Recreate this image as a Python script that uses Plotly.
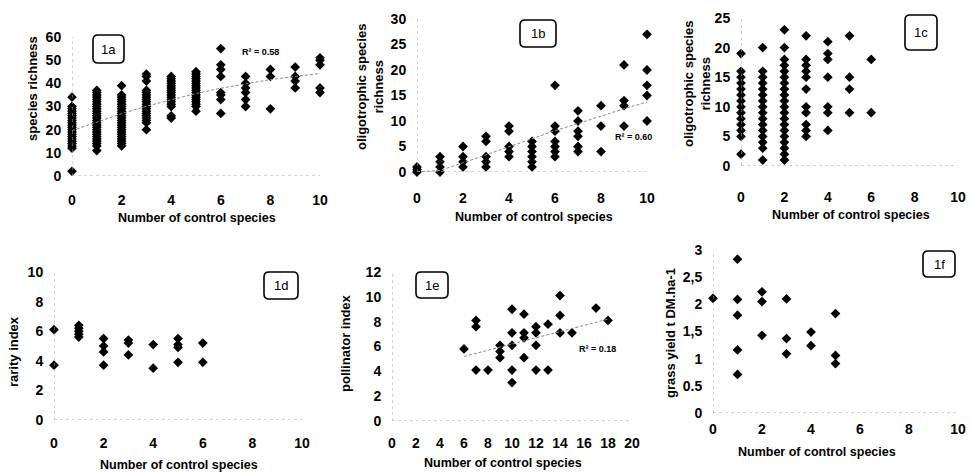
import plotly.graph_objects as go

# ---------------- DATA ----------------
# 1a: species richness vs number of control species
a_cols = [0, 1, 2, 3, 4, 5, 6, 7, 8, 9, 10]
a_vals = [
    [2, 12, 13, 14, 15, 16, 17, 18, 19, 20, 21, 22, 23, 24, 25, 26, 27, 28, 29, 30, 34],
    [11, 13, 14, 15, 16, 17, 18, 19, 20, 21, 22, 23, 24, 25, 26, 27, 28, 29, 30, 31, 32, 33, 34, 35, 36, 37],
    [13, 14, 15, 16, 17, 18, 19, 20, 21, 22, 23, 24, 25, 26, 27, 28, 29, 30, 31, 32, 33, 34, 35, 39],
    [20, 23, 24, 25, 26, 27, 28, 29, 30, 31, 32, 33, 34, 35, 36, 37, 41, 43, 44],
    [25, 26, 30, 31, 32, 33, 34, 35, 36, 37, 38, 39, 40, 41, 42, 43],
    [28, 30, 31, 32, 33, 34, 35, 36, 37, 38, 39, 40, 41, 42, 43, 44, 45],
    [27, 33, 35, 36, 43, 46, 48, 55],
    [30, 33, 36, 38, 40, 43],
    [29, 43, 46],
    [38, 41, 43, 47],
    [36, 38, 48, 50, 51],
]
trend_a_x = [0, 1, 2, 3, 4, 5, 6, 7, 8, 9, 10]
trend_a_y = [19.6, 23.4, 26.9, 30.1, 33.0, 35.6, 37.9, 39.9, 41.6, 43.0, 44.2]

# 1b: oligotrophic species richness vs number of control species
b_cols = [0, 1, 2, 3, 4, 5, 6, 7, 8, 9, 10]
b_vals = [
    [0, 0.5, 1],
    [0, 1, 2, 3],
    [1, 2, 3, 5],
    [1, 2, 3, 6, 7],
    [3, 4, 5, 8, 9],
    [1, 2, 3, 4, 5, 6],
    [3, 4, 5, 6, 8, 9, 17],
    [4, 5, 7, 8, 10, 12],
    [4, 9, 13],
    [9, 13, 14, 21],
    [10, 15, 17, 20, 27],
]
trend_b_x = [0, 1, 2, 3, 4, 5, 6, 7, 8, 9, 10]
trend_b_y = [0.0, 0.3, 1.8, 3.4, 5.0, 6.6, 8.1, 9.5, 11.0, 12.4, 13.7]

# 1c: oligotrophic species richness vs number of control species
c_cols = [0, 1, 2, 3, 4, 5, 6]
c_vals = [
    [2, 5, 6, 7, 8, 9, 10, 11, 12, 13, 14, 15, 16, 19],
    [1, 3, 4, 5, 6, 7, 8, 9, 10, 11, 12, 13, 14, 15, 16, 20],
    [1, 2, 3, 4, 5, 6, 7, 8, 9, 10, 11, 12, 13, 14, 15, 16, 17, 18, 20, 23],
    [5, 6, 7, 9, 10, 13, 15, 16, 17, 18, 22],
    [6, 9, 10, 15, 18, 19, 21],
    [9, 13, 15, 22],
    [9, 18],
]

# 1d: rarity index
d_cols = [0, 1, 2, 3, 4, 5, 6]
d_vals = [
    [3.7, 6.1],
    [5.6, 5.8, 6.0, 6.2, 6.4],
    [3.7, 4.6, 5.0, 5.5],
    [4.4, 5.2, 5.4],
    [3.5, 5.1],
    [3.9, 4.9, 5.1, 5.5],
    [3.9, 5.2],
]

# 1e: pollinator index
e_x = [6, 7, 7, 7, 8, 9, 9, 9, 10, 10, 10, 10, 10, 11, 11, 11, 11, 12, 12, 12, 12, 13, 13, 14, 14, 14, 15, 17, 18]
e_y = [5.8, 8.1, 7.6, 4.1, 4.1, 6.1, 5.6, 5.1, 9.0, 7.1, 6.1, 4.1, 3.1, 8.6, 7.1, 6.7, 5.1,
       7.6, 7.1, 6.1, 4.1, 7.8, 4.1, 10.1, 8.5, 7.1, 7.1, 9.1, 8.1]
trend_e_x = [6, 18]
trend_e_y = [5.2, 8.2]

# 1f: grass yield
f_x = [0, 1, 1, 1, 1, 1, 2, 2, 2, 3, 3, 3, 4, 4, 5, 5, 5]
f_y = [2.11, 2.83, 2.09, 1.8, 1.16, 0.71, 2.23, 2.05, 1.43, 2.1, 1.37, 1.09, 1.49, 1.24, 1.83, 1.06, 0.91]

f_tickvals = [0, 0.5, 1, 1.5, 2, 2.5, 3]
f_ticktext = ["0", "0.5", "1", "1,5", "2", "2,5", "3"]

panel_labels = ["1a", "1b", "1c", "1d", "1e", "1f"]
r2_labels = ["R² = 0.58", "R² = 0.60", "R² = 0.18"]
x_title = "Number of control species"
y_titles = ["species richness", "oligotrophic species<br>richness", "oligotrophic species<br>richness",
            "rarity index", "pollinator index", "grass yield t DM.ha-1"]

# ---------------- LAYOUT HELPERS ----------------
W, H = 971, 472


def fx(p):
    return p / W


def fy(p):
    return 1 - p / H


def expand(cols, vals):
    xs, ys = [], []
    for c, vs in zip(cols, vals):
        for v in vs:
            xs.append(c)
            ys.append(v)
    return xs, ys


# panel pixel boxes: (left, right), (top, bottom), ranges, dticks, x ticklen
panels = [
    dict(px=(72, 320), py=(37, 176), xr=[0, 10], yr=[0, 60], xd=2, yd=10, tl=11),
    dict(px=(417, 647), py=(19, 172), xr=[0, 10], yr=[0, 30], xd=2, yd=5, tl=13),
    dict(px=(741, 958), py=(18, 166), xr=[0, 10], yr=[0, 25], xd=2, yd=5, tl=18),
    dict(px=(54, 302), py=(272, 420), xr=[0, 10], yr=[0, 10], xd=2, yd=2, tl=10),
    dict(px=(392, 632), py=(272, 421), xr=[0, 20], yr=[0, 12], xd=2, yd=2, tl=9),
    dict(px=(713, 958), py=(250, 413), xr=[0, 10], yr=[0, 3], xd=2, yd=0.5, tl=3),
]

FONT = "Liberation Sans, Arial, sans-serif"
marker = dict(symbol="diamond", size=7.5, color="black")

fig = go.Figure()

xa_data, ya_data = expand(a_cols, a_vals)
xb_data, yb_data = expand(b_cols, b_vals)
xc_data, yc_data = expand(c_cols, c_vals)
xd_data, yd_data = expand(d_cols, d_vals)
series = [(xa_data, ya_data), (xb_data, yb_data), (xc_data, yc_data),
          (xd_data, yd_data), (e_x, e_y), (f_x, f_y)]

for i, (xs, ys) in enumerate(series):
    sfx = "" if i == 0 else str(i + 1)
    fig.add_trace(go.Scatter(x=xs, y=ys, mode="markers", marker=marker,
                             xaxis="x" + sfx, yaxis="y" + sfx, cliponaxis=False,
                             showlegend=False))

trend_line = dict(color="#8a8a8a", width=1, dash="3px,2px")
fig.add_trace(go.Scatter(x=trend_a_x, y=trend_a_y, mode="lines", line=trend_line,
                         xaxis="x", yaxis="y", showlegend=False))
fig.add_trace(go.Scatter(x=trend_b_x, y=trend_b_y, mode="lines", line=trend_line,
                         xaxis="x2", yaxis="y2", showlegend=False))
fig.add_trace(go.Scatter(x=trend_e_x, y=trend_e_y, mode="lines", line=trend_line,
                         xaxis="x5", yaxis="y5", showlegend=False))

layout = dict(width=W, height=H, margin=dict(l=0, r=0, t=0, b=0, pad=0, autoexpand=False),
              paper_bgcolor="white", plot_bgcolor="white", showlegend=False,
              font=dict(family=FONT, color="black"))

tickfont = dict(family=FONT, size=14, color="black", weight="bold")
shapes = []
for i, p in enumerate(panels):
    sfx = "" if i == 0 else str(i + 1)
    layout["xaxis" + sfx] = dict(
        domain=[fx(p["px"][0]), fx(p["px"][1])], range=p["xr"], anchor="y" + sfx,
        tickmode="linear", tick0=0, dtick=p["xd"], showgrid=False, zeroline=False,
        showline=False, ticks="outside", ticklen=p["tl"], tickcolor="rgba(0,0,0,0)",
        tickfont=tickfont, fixedrange=True, automargin=False)
    ya = dict(
        domain=[fy(p["py"][1]), fy(p["py"][0])], range=p["yr"], anchor="x" + sfx,
        showgrid=False, zeroline=False, showline=False, ticks="outside", ticklen=7,
        tickcolor="rgba(0,0,0,0)", tickfont=tickfont, fixedrange=True, automargin=False)
    if i == 5:
        ya.update(tickmode="array", tickvals=f_tickvals, ticktext=f_ticktext)
    else:
        ya.update(tickmode="linear", tick0=0, dtick=p["yd"])
    layout["yaxis" + sfx] = ya
    axis_line = dict(color="#a8a8a8", width=1, dash="dot")
    shapes.append(dict(type="line", xref="x" + sfx, yref="y" + sfx,
                       x0=p["xr"][0], x1=p["xr"][0], y0=p["yr"][0], y1=p["yr"][1], line=axis_line))
    shapes.append(dict(type="line", xref="x" + sfx, yref="y" + sfx,
                       x0=p["xr"][0], x1=p["xr"][1], y0=p["yr"][0], y1=p["yr"][0], line=axis_line))


def rounded_rect(x0, y0, x1, y1, r):
    pts = [
        ("M", [(x0 + r, y0)]), ("L", [(x1 - r, y0)]), ("Q", [(x1, y0), (x1, y0 + r)]),
        ("L", [(x1, y1 - r)]), ("Q", [(x1, y1), (x1 - r, y1)]), ("L", [(x0 + r, y1)]),
        ("Q", [(x0, y1), (x0, y1 - r)]), ("L", [(x0, y0 + r)]), ("Q", [(x0, y0), (x0 + r, y0)]),
    ]
    s = ""
    for cmd, coords in pts:
        s += cmd + " " + " ".join(f"{fx(a):.5f},{fy(b):.5f}" for a, b in coords) + " "
    return s + "Z"


boxes = [(93, 35, 124, 63), (520, 20, 556, 47), (905, 15, 937, 50),
         (264, 272, 298, 299), (416, 272, 448, 298), (923, 251, 955, 277)]
annotations = []
for lbl, (x0, y0, x1, y1) in zip(panel_labels, boxes):
    shapes.append(dict(type="path", xref="paper", yref="paper", path=rounded_rect(x0, y0, x1, y1, 5),
                       line=dict(color="black", width=1.6)))
    annotations.append(dict(text=lbl, xref="paper", yref="paper", x=fx((x0 + x1) / 2), y=fy((y0 + y1) / 2),
                            xanchor="center", yanchor="middle", showarrow=False,
                            font=dict(family=FONT, size=13, color="black")))

# axis titles
x_title_pos = [(197, 218), (534, 217), (851, 215), (179, 465), (503, 463), (817, 452)]
for (cx, cy) in x_title_pos:
    annotations.append(dict(text="<b>" + x_title + "</b>", xref="paper", yref="paper",
                            x=fx(cx), y=fy(cy), xanchor="center", yanchor="middle", showarrow=False,
                            font=dict(family=FONT, size=12.5, color="black")))
y_title_pos = [(32, 89), (370, 87), (697, 84), (13, 352), (345, 343), (670, 333)]
for t, (cx, cy) in zip(y_titles, y_title_pos):
    annotations.append(dict(text="<b>" + t + "</b>", xref="paper", yref="paper", textangle=-90,
                            x=fx(cx), y=fy(cy), xanchor="center", yanchor="middle", showarrow=False,
                            font=dict(family=FONT, size=13, color="black")))

r2_pos = [(240, 52), (613, 137), (577, 349)]
for t, (lx, cy) in zip(r2_labels, r2_pos):
    annotations.append(dict(text="<b>" + t + "</b>", xref="paper", yref="paper",
                            x=fx(lx), y=fy(cy), xanchor="left", yanchor="middle", showarrow=False,
                            font=dict(family=FONT, size=9, color="black")))

layout["shapes"] = shapes
layout["annotations"] = annotations
fig.update_layout(**layout)

fig.write_html("out.html", config={"displayModeBar": False, "staticPlot": True},
               post_script="document.body.style.margin='0';document.body.style.overflow='hidden';")
